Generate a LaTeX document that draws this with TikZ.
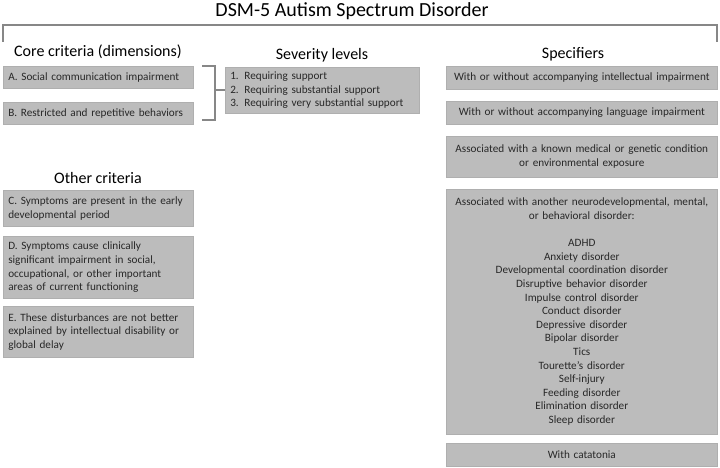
\documentclass[tikz,border=0pt]{standalone}
\usepackage{fontspec}
\setmainfont{Carlito}
\definecolor{boxfill}{RGB}{188,188,188}
\definecolor{boxedge}{RGB}{175,175,175}
\definecolor{txt}{RGB}{40,40,40}
\definecolor{linegray}{RGB}{135,135,135}
\begin{document}
\begin{tikzpicture}[x=1pt,y=-1pt]
\tikzset{
  box/.style={fill=boxfill, draw=boxedge, line width=0.6pt, anchor=north west,
    inner xsep=5pt, inner ysep=0pt, text=txt, font=\fontsize{11.2}{13.6}\selectfont},
  lbox/.style={box, align=left},
  cbox/.style={box, align=center},
  heading/.style={font=\fontsize{16}{18}\selectfont, text=black, inner sep=0pt},
  titlestyle/.style={font=\fontsize{20}{22}\selectfont, text=black, inner sep=0pt},
  bracket/.style={draw=linegray, line width=1.8pt},
}
\useasboundingbox (0,0) rectangle (720,468);
\fill[white] (0,0) rectangle (720,468);

% title and top bracket
\node[titlestyle] (title) at (352,11) {DSM-5 Autism Spectrum Disorder};
\coordinate (tl) at (3,42);
\coordinate (tr) at (717,42);
\draw[bracket] (tl) -- ++(0,-17) -| (tr);

% headings
\node[heading] (hcore) at (98,52) {Core criteria (dimensions)};
\node[heading] (hsev) at (322,55) {Severity levels};
\node[heading] (hspec) at (573,54) {Specifiers};
\node[heading] (hother) at (98,178) {Other criteria};

% core criteria
\node[lbox, text width=180pt, minimum height=22pt] (A) at (3,66) {A. Social communication impairment};
\node[lbox, text width=180pt, minimum height=22pt] (B) at (3,102) {B. Restricted and repetitive behaviors};

% severity
\node[lbox, text width=184pt, minimum height=46pt] (sev) at (225,67) {1. Requiring support\\2. Requiring substantial support\\3. Requiring very substantial support};

% bracket between core and severity
\coordinate (bt) at (202,66);
\coordinate (bb) at (202,120);
\coordinate (bm) at (215,90);
\draw[bracket, line width=1.5pt] (bt) -- (215,66) -- (215,120) -- (bb);
\draw[bracket, line width=1.5pt] (bm) -- (bm -| sev.west);

% other criteria
\node[lbox, text width=180pt, minimum height=36pt] (C) at (3,190) {C. Symptoms are present in the early\\developmental period};
\node[lbox, text width=180pt, minimum height=62pt] (D) at (3,236) {D. Symptoms cause clinically\\significant impairment in social,\\occupational, or other important\\areas of current functioning};
\node[lbox, text width=180pt, minimum height=51pt] (E) at (3,306) {E. These disturbances are not better\\explained by intellectual disability or\\global delay};

% specifiers
\node[cbox, text width=261pt, minimum height=23pt] (s1) at (446,66) {With or without accompanying intellectual impairment};
\node[cbox, text width=261pt, minimum height=23pt] (s2) at (446,101) {With or without accompanying language impairment};
\node[cbox, text width=261pt, minimum height=41pt] (s3) at (446,136) {Associated with a known medical or genetic condition\\or environmental exposure};
\node[cbox, text width=261pt, minimum height=245pt] (s4) at (446,189) {Associated with another neurodevelopmental, mental,\\or behavioral disorder:\\[13.6pt]ADHD\\Anxiety disorder\\Developmental coordination disorder\\Disruptive behavior disorder\\Impulse control disorder\\Conduct disorder\\Depressive disorder\\Bipolar disorder\\Tics\\Tourette's disorder\\Self-injury\\Feeding disorder\\Elimination disorder\\Sleep disorder};
\node[cbox, text width=261pt, minimum height=23pt] (s5) at (446,443) {With catatonia};
\end{tikzpicture}
\end{document}
